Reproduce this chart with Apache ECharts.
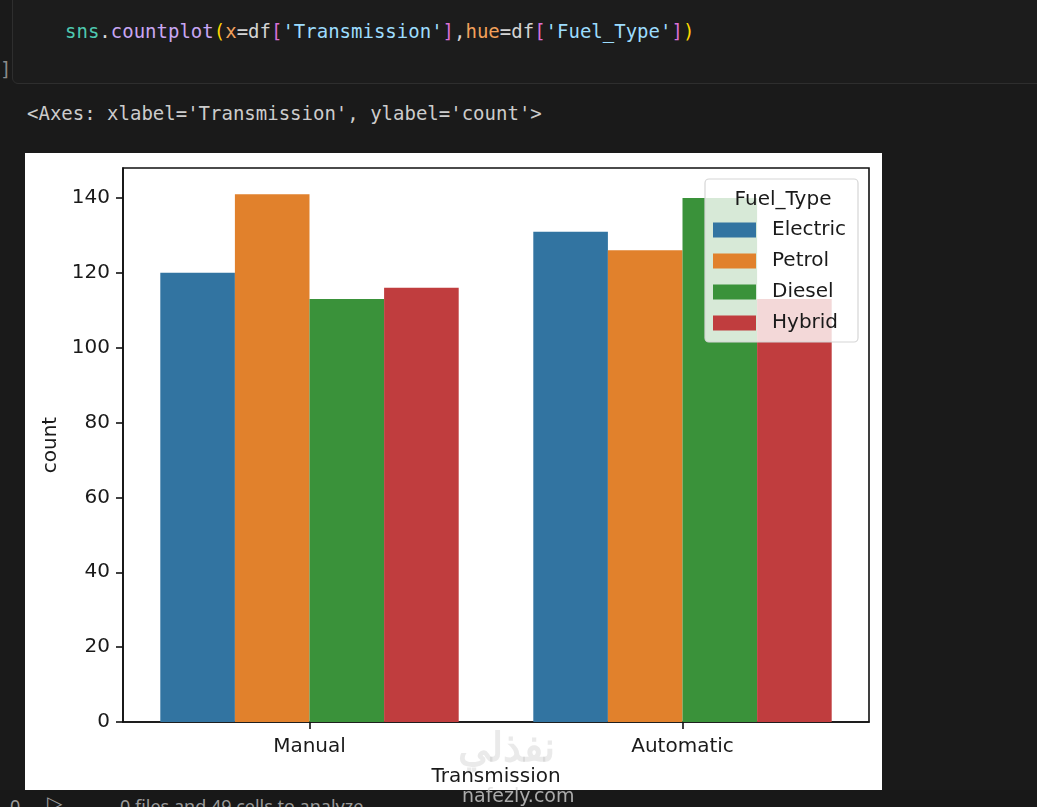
<!DOCTYPE html>
<html>
<head>
<meta charset="utf-8">
<script src="https://cdn.jsdelivr.net/npm/echarts@6/dist/echarts.min.js"></script>
<style>
  html, body { margin: 0; padding: 0; background: #1a1a1a; width: 1037px; height: 807px; overflow: hidden; }
  .mono { font-family: "DejaVu Sans Mono", monospace; font-size: 19px; white-space: pre; position: absolute; }
  #cell { position: absolute; left: 12px; top: -10px; width: 1040px; height: 94px; border: 1px solid #2e2e2e; border-radius: 6px; background: #1c1c1c; box-sizing: border-box; }
  #chart { position: absolute; left: 25px; top: 153px; width: 857px; height: 637px; background: #ffffff; }
  #status { position: absolute; left: 0; top: 790px; width: 1037px; height: 17px; background: #181818; overflow: hidden; }
  #status span { position: absolute; top: 6px; font-family: "Noto Sans", sans-serif; font-size: 18px; line-height: 20px; color: #9a9a9a; white-space: pre; }
  .wm { position: absolute; font-family: "DejaVu Sans", sans-serif; white-space: pre; pointer-events: none; }
</style>
</head>
<body>
<div id="cell"></div>
<div class="mono" style="left:0px;top:58px;color:#8a8a8a;">]</div>
<div class="mono" style="left:65px;top:20px;"><span style="color:#4ec9b0">sns</span><span style="color:#d4d4d4">.</span><span style="color:#c8a6f2">countplot</span><span style="color:#ffd700">(</span><span style="color:#f2a05a">x</span><span style="color:#d4d4d4">=df</span><span style="color:#da70d6">[</span><span style="color:#9cdcfe">'Transmission'</span><span style="color:#da70d6">]</span><span style="color:#d4d4d4">,</span><span style="color:#f2a05a">hue</span><span style="color:#d4d4d4">=df</span><span style="color:#da70d6">[</span><span style="color:#9cdcfe">'Fuel_Type'</span><span style="color:#da70d6">]</span><span style="color:#ffd700">)</span></div>
<div class="mono" style="left:27px;top:102px;color:#cccccc;">&lt;Axes: xlabel='Transmission', ylabel='count'&gt;</div>
<div id="chart"></div>
<div id="status"><span style="left:10px;">0</span><span style="left:47px;top:3px;font-size:20px;">▷</span><span style="left:120px;">0 files and 49 cells to analyze</span></div>
<div class="wm" style="left:458px;top:718px;font-size:40px;color:rgba(160,160,160,0.22);font-family:'Noto Sans', sans-serif;font-weight:bold;">نفذلي</div>
<div class="wm" style="left:462px;top:784px;font-size:19px;color:rgba(220,220,220,0.75);">nafezly.com</div>
<script>
// ---- data ----
const categories = ['Manual', 'Automatic'];
const fuelTypes = ['Electric', 'Petrol', 'Diesel', 'Hybrid'];
const electric = [120, 131];
const petrol = [141, 126];
const diesel = [113, 140];
const hybrid = [116, 113];
const yTicks = [0, 20, 40, 60, 80, 100, 120, 140];
const colors = ['#3274a1', '#e1812c', '#3a923a', '#c03d3e'];
const seriesValues = [electric, petrol, diesel, hybrid];

const chart = echarts.init(document.getElementById('chart'), null, { renderer: 'canvas' });
const font = '"DejaVu Sans", sans-serif';
const txt = '#1a1a1a';

chart.setOption({
  animation: false,
  backgroundColor: '#ffffff',
  grid: {
    left: 98, right: 13, top: 15, bottom: 68,
    containLabel: false,
    outerBoundsMode: 'none',
    show: true, borderColor: '#111', borderWidth: 1.6, backgroundColor: 'transparent'
  },
  xAxis: {
    type: 'category',
    data: categories,
    boundaryGap: true,
    name: 'Transmission',
    nameLocation: 'middle',
    nameGap: 45,
    nameTextStyle: { fontFamily: font, fontSize: 20, color: txt },
    axisLine: { show: true, lineStyle: { color: '#111', width: 1.6 } },
    axisTick: { show: true, alignWithLabel: true, length: 7, lineStyle: { color: '#111', width: 1.6 } },
    axisLabel: { fontFamily: font, fontSize: 20, color: txt, margin: 15 },
    splitLine: { show: false }
  },
  yAxis: {
    type: 'value',
    min: 0,
    max: 148,
    interval: 20,
    name: 'count',
    nameLocation: 'middle',
    nameGap: 61,
    nameRotate: 90,
    nameTextStyle: { fontFamily: font, fontSize: 20, color: txt },
    axisLine: { show: true, lineStyle: { color: '#111', width: 1.6 } },
    axisTick: { show: true, length: 7, customValues: yTicks, lineStyle: { color: '#111', width: 1.6 } },
    axisLabel: { fontFamily: font, fontSize: 20, color: txt, margin: 13, customValues: yTicks },
    splitLine: { show: false }
  },
  legend: {
    orient: 'vertical',
    left: 688,
    top: 67,
    padding: 0,
    z: 20,
    itemWidth: 43,
    itemHeight: 15,
    itemGap: 11,
    icon: 'rect',
    data: fuelTypes,
    textStyle: { fontFamily: font, fontSize: 20, color: txt, lineHeight: 20, padding: [0, 0, 0, 11] }
  },
  graphic: [
    {
      type: 'rect', z: 15,
      shape: { x: 680, y: 26, width: 153, height: 163, r: 4 },
      style: { fill: 'rgba(255,255,255,0.8)', stroke: '#d6d6d6', lineWidth: 1.2 }
    },
    {
      type: 'text', z: 16,
      x: 758, y: 47,
      style: { text: 'Fuel_Type', font: '20px "DejaVu Sans", sans-serif', fill: txt, align: 'center', verticalAlign: 'middle' }
    }
  ],
  series: fuelTypes.map((name, i) => ({
    name: name,
    type: 'bar',
    data: seriesValues[i],
    barGap: '0%',
    barCategoryGap: '20%',
    itemStyle: { color: colors[i] },
    z: 2
  }))
});
</script>
</body>
</html>
